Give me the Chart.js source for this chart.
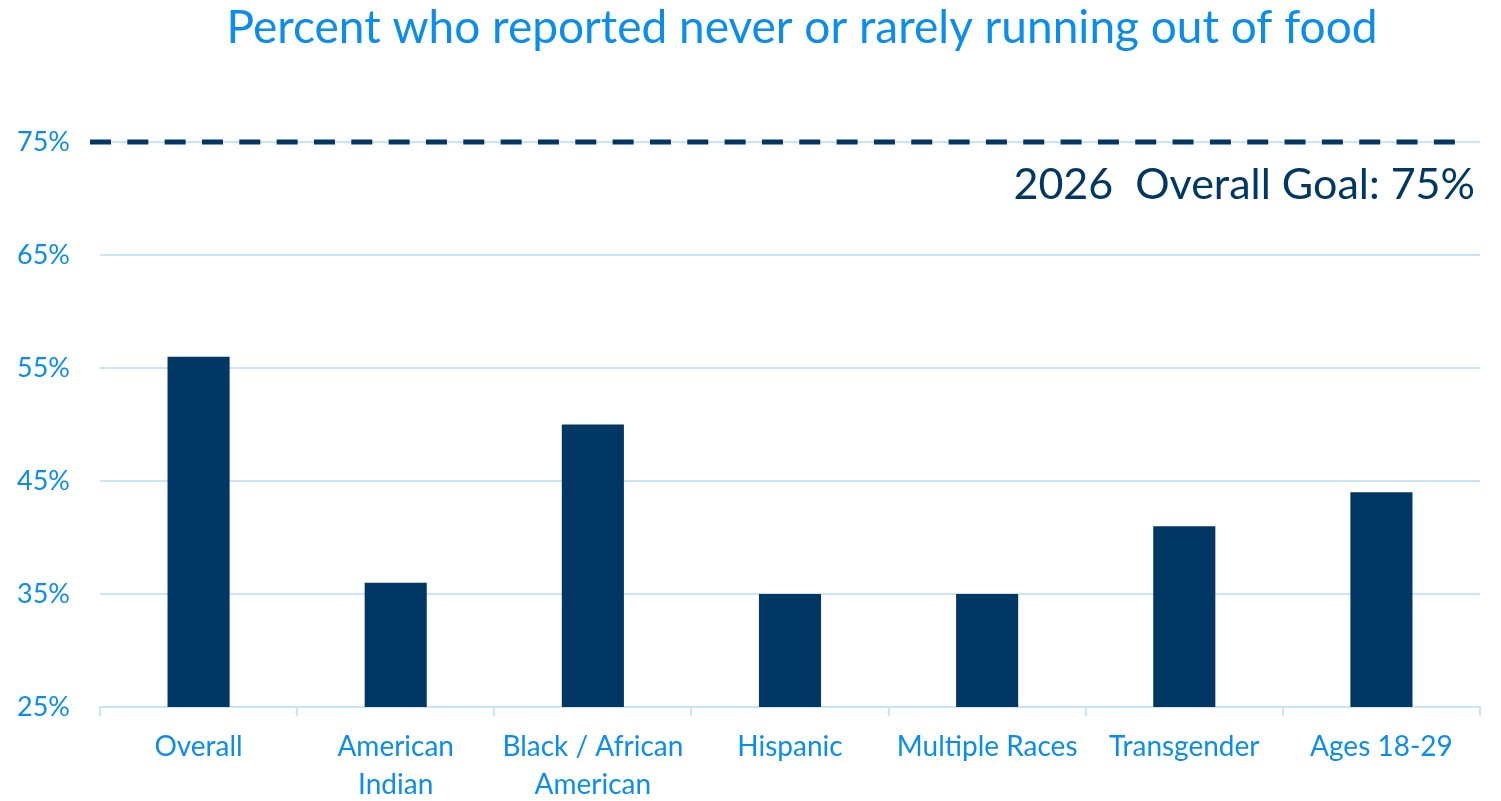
<!DOCTYPE html>
<html>
<head>
<meta charset="utf-8">
<script src="https://cdn.jsdelivr.net/npm/chart.js@4"></script>
<style>
html,body{margin:0;padding:0;background:#fff;}
#wrap{width:1501px;height:801px;}
</style>
</head>
<body>
<div id="wrap"><canvas id="c" width="1501" height="801"></canvas></div>
<script>
const categories = ["Overall", ["American","Indian"], ["Black / African","American"], "Hispanic", "Multiple Races", "Transgender", "Ages 18-29"];
const values = [56, 36, 50, 35, 35, 41, 44];
const goalValue = [75];
const goalLabel = "2026  Overall Goal: 75%";
const titleText = "Percent who reported never or rarely running out of food";
const yTicks = [25, 35, 45, 55, 65, 75];

const FONT = "Lato, 'Open Sans', sans-serif";
const BLUE = "#0b8ded";
const NAVY = "#003764";
const GRID = "#cbe5f8";

const goalPlugin = {
  id: 'goal',
  afterDatasetsDraw(chart) {
    const {ctx, chartArea, scales} = chart;
    const y = scales.y.getPixelForValue(goalValue[0]);
    ctx.save();
    ctx.strokeStyle = NAVY;
    ctx.lineWidth = 5;
    ctx.setLineDash([21, 16.33]);
    ctx.beginPath();
    ctx.moveTo(chartArea.left - 10, y);
    ctx.lineTo(chartArea.right - 24, y);
    ctx.stroke();
    ctx.setLineDash([]);
    ctx.fillStyle = NAVY;
    ctx.font = "43px " + FONT;
    ctx.textAlign = "right";
    ctx.textBaseline = "middle";
    ctx.fillText(goalLabel, chartArea.right - 5, y + 43);
    // title
    ctx.fillStyle = BLUE;
    ctx.font = "46px " + FONT;
    ctx.textAlign = "center";
    ctx.fillText(titleText, 802, 28);
    ctx.restore();
  }
};

new Chart(document.getElementById('c'), {
  type: 'bar',
  data: {
    labels: categories,
    datasets: [{
      data: values,
      backgroundColor: NAVY,
      barPercentage: 0.315,
      categoryPercentage: 1.0
    }]
  },
  options: {
    responsive: false,
    animation: false,
    devicePixelRatio: 1,
    layout: {padding: {left: 0, right: 21, top: 142, bottom: 0}},
    plugins: {
      legend: {display: false},
      tooltip: {enabled: false},
      title: {display: false}
    },
    scales: {
      y: {
        min: 25, max: 75,
        afterBuildTicks(scale) { scale.ticks = yTicks.map(v => ({value: v})); },
        afterFit(scale) { scale.width = 100; },
        ticks: {
          color: BLUE,
          font: {family: FONT, size: 27},
          padding: 30,
          callback: v => v + '%'
        },
        grid: {color: GRID, lineWidth: 2, drawTicks: false},
        border: {display: false}
      },
      x: {
        offset: true,
        afterFit(scale) { scale.height = 94; },
        ticks: {
          color: BLUE,
          font: {family: FONT, size: 28, lineHeight: 1.35},
          padding: 12,
          maxRotation: 0,
          autoSkip: false
        },
        grid: {
          offset: true,
          drawOnChartArea: false,
          drawTicks: true,
          tickLength: 9,
          color: GRID,
          lineWidth: 2
        },
        border: {display: true, color: GRID, width: 2}
      }
    }
  },
  plugins: [goalPlugin]
});
</script>
</body>
</html>
